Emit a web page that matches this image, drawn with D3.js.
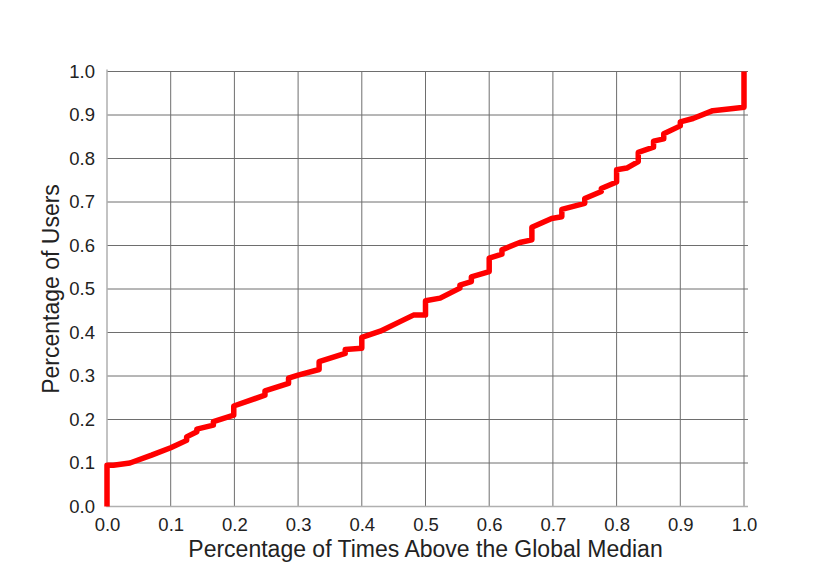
<!DOCTYPE html>
<html>
<head>
<meta charset="utf-8">
<script src="https://cdn.jsdelivr.net/npm/d3@7"></script>
<style>
  html, body { margin: 0; padding: 0; background: #fff; }
  svg text { font-family: "Liberation Sans", Arial, sans-serif; fill: #222; }
</style>
</head>
<body>
<svg id="viz" width="830" height="581"></svg>
<script>
// share of times above the global median (x) vs cumulative share of users (y)
const cdfX = [0, 0, 0.01, 0.036, 0.07, 0.1, 0.125, 0.125, 0.141, 0.141, 0.167, 0.167,
  0.199, 0.199, 0.248, 0.248, 0.285, 0.285, 0.3, 0.333, 0.333, 0.374, 0.374, 0.4, 0.4,
  0.429, 0.46, 0.481, 0.5, 0.5, 0.523, 0.554, 0.554, 0.572, 0.572, 0.6, 0.6, 0.62, 0.62,
  0.648, 0.667, 0.667, 0.698, 0.714, 0.714, 0.75, 0.75, 0.776, 0.776, 0.8, 0.8, 0.816,
  0.834, 0.834, 0.858, 0.858, 0.874, 0.874, 0.9, 0.9, 0.92, 0.951, 0.983, 1.0, 1.0];
const cdfY = [0, 0.095, 0.095, 0.1, 0.118, 0.135, 0.152, 0.16, 0.172, 0.178, 0.187, 0.195,
  0.21, 0.231, 0.256, 0.266, 0.283, 0.295, 0.302, 0.315, 0.333, 0.352, 0.361, 0.364, 0.389,
  0.403, 0.425, 0.44, 0.44, 0.473, 0.479, 0.502, 0.509, 0.517, 0.528, 0.54, 0.571, 0.58, 0.59,
  0.607, 0.613, 0.642, 0.662, 0.666, 0.683, 0.697, 0.708, 0.724, 0.731, 0.746, 0.774, 0.778,
  0.793, 0.814, 0.826, 0.84, 0.845, 0.857, 0.875, 0.884, 0.892, 0.91, 0.915, 0.918, 1.0];
const tickVals = d3.range(0, 11).map(d => d / 10);
const xLabel = "Percentage of Times Above the Global Median";
const yLabel = "Percentage of Users";

const svg = d3.select("#viz");
const margin = { left: 107, right: 86, top: 71.5, bottom: 74.5 };
const width = 830, height = 581;

const x = d3.scaleLinear().domain([0, 1]).range([margin.left, width - margin.right]);
const y = d3.scaleLinear().domain([0, 1]).range([height - margin.bottom, margin.top]);

// grid
const grid = svg.append("g");
grid.selectAll(".vg")
  .data(tickVals.slice(1))
  .enter()
  .append("line")
  .attr("x1", d => x(d)).attr("x2", d => x(d))
  .attr("y1", y(0)).attr("y2", y(1))
  .attr("stroke", "#6e6e6e")
  .attr("stroke-width", 1);
grid.selectAll(".hg")
  .data(tickVals.slice(1))
  .enter()
  .append("line")
  .attr("x1", x(0)).attr("x2", x(1) + 4)
  .attr("y1", d => y(d)).attr("y2", d => y(d))
  .attr("stroke", "#6e6e6e")
  .attr("stroke-width", 1);

// left + bottom frame, lighter
svg.append("path")
  .attr("d", `M${x(0)},${y(1) - 2} V${y(0)} H${x(1) + 4}`)
  .attr("fill", "none")
  .attr("stroke", "#b0b0b0")
  .attr("stroke-width", 1.5);

// axes
const xAxis = svg.append("g")
  .attr("transform", `translate(0,${y(0)})`)
  .call(d3.axisBottom(x).tickValues(tickVals).tickFormat(d3.format(".1f")).tickSize(0).tickPadding(11));
const yAxis = svg.append("g")
  .attr("transform", `translate(${x(0)},0)`)
  .call(d3.axisLeft(y).tickValues(tickVals).tickFormat(d3.format(".1f")).tickSize(0).tickPadding(12));
[xAxis, yAxis].forEach(a => {
  a.select(".domain").remove();
  a.attr("font-size", null).attr("font-family", null);
  a.selectAll("text").attr("fill", "#222")
    .style("font-size", "18.5px")
    .style("font-family", "'Liberation Sans', Arial, sans-serif");
});

// axis titles
svg.append("text")
  .attr("x", (x(0) + x(1)) / 2)
  .attr("y", 557)
  .attr("text-anchor", "middle")
  .style("font-size", "23px")
  .text(xLabel);
svg.append("text")
  .attr("transform", `translate(59,${(y(0) + y(1)) / 2}) rotate(-90)`)
  .attr("text-anchor", "middle")
  .style("font-size", "23px")
  .text(yLabel);

// the curve
const line = d3.line().x(d => x(d[0])).y(d => y(d[1]));
svg.append("path")
  .datum(d3.zip(cdfX, cdfY))
  .attr("d", line)
  .attr("fill", "none")
  .attr("stroke", "#ff0000")
  .attr("stroke-width", 5.5)
  .attr("stroke-linejoin", "round");
</script>
</body>
</html>
